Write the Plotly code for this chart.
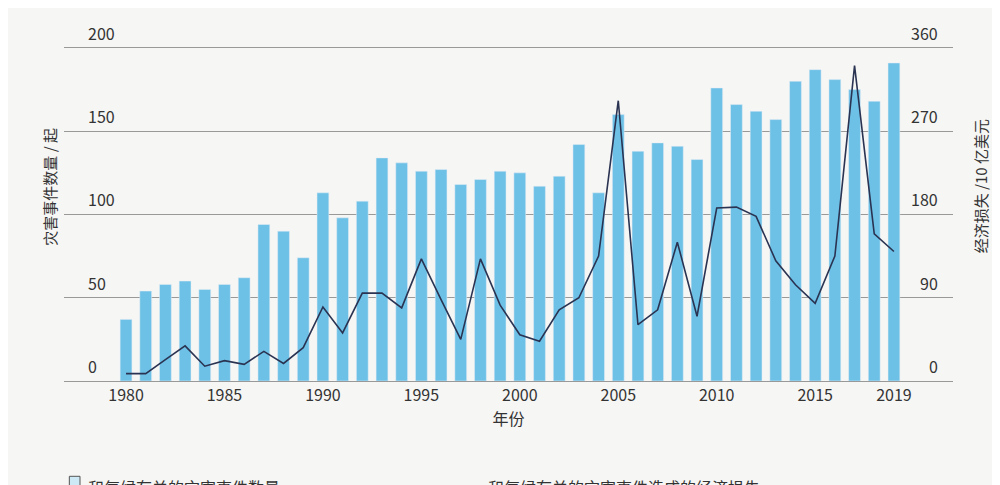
import plotly.graph_objects as go

years = list(range(1980, 2020))
disasters = [37, 54, 58, 60, 55, 58, 62, 94, 90, 74,
             113, 98, 108, 134, 131, 126, 127, 118, 121, 126,
             125, 117, 123, 142, 113, 160, 138, 143, 141, 133,
             176, 166, 162, 157, 180, 187, 181, 175, 168, 191]
losses = [8, 8, 23, 38, 16, 22, 18, 32, 19, 36,
          80, 52, 95, 95, 79, 132, 88, 45, 132, 82,
          50, 43, 77, 90, 135, 303, 61, 77, 150, 70,
          187, 188, 178, 130, 104, 84, 135, 341, 159, 140]
xticks = [1980, 1985, 1990, 1995, 2000, 2005, 2010, 2015, 2019]
lticks = [0, 50, 100, 150, 200]
rticks = [0, 90, 180, 270, 360]

fnt = "Noto Sans CJK SC"
bar_col = "#6ec1e6"
line_col = "#2a3352"

fig = go.Figure()
fig.add_trace(go.Bar(x=years, y=disasters, marker=dict(color=bar_col), width=0.6,
                     showlegend=False))
fig.add_trace(go.Scatter(x=years, y=losses, yaxis="y2", mode="lines",
                         line=dict(color=line_col, width=1.6), showlegend=False))

ann = []
for v in lticks:
    ann.append(dict(text=str(v), x=0.025, y=v, xref="paper", yref="y", xanchor="left",
                    yanchor="bottom", showarrow=False, font=dict(size=16), yshift=1))
for v in rticks:
    ann.append(dict(text=str(v), x=0.985, y=v, xref="paper", yref="y2", xanchor="right",
                    yanchor="bottom", showarrow=False, font=dict(size=16), yshift=1))
ann += [
    dict(text="灾害事件数量 / 起", textangle=-90, x=-0.03, y=0.55,
         xref="paper", yref="paper", showarrow=False, font=dict(size=15)),
    dict(text="经济损失 /10 亿美元", textangle=-90, x=1.045, y=0.55,
         xref="paper", yref="paper", showarrow=False, font=dict(size=15)),
    dict(text="和气候有关的灾害事件数量", x=0.025, y=-0.3, xref="paper", yref="paper",
         xanchor="left", yanchor="middle", showarrow=False, font=dict(size=16)),
    dict(text="和气候有关的灾害事件造成的经济损失", x=0.475, y=-0.3, xref="paper",
         yref="paper", xanchor="left", yanchor="middle", showarrow=False,
         font=dict(size=16)),
]
shapes = [
    dict(type="rect", xref="paper", yref="paper", x0=0.006, x1=0.018, y0=-0.33, y1=-0.27,
         fillcolor="#cde9f5", line=dict(color="#555", width=1)),
    dict(type="line", xref="paper", yref="paper", x0=0.39, x1=0.46, y0=-0.3, y1=-0.3,
         line=dict(color=line_col, width=1.2)),
]

fig.update_layout(
    width=1000, height=485,
    margin=dict(l=56, r=55, t=20, b=112),
    paper_bgcolor="#f6f6f4", plot_bgcolor="#f6f6f4",
    font=dict(family=fnt, size=15, color="#333"),
    showlegend=False,
    xaxis=dict(tickvals=xticks, range=[1976.85, 2022], showgrid=False,
               showline=True, linecolor="#999", ticks="", tickfont=dict(size=16),
               title=dict(text="年份", font=dict(size=16), standoff=4)),
    yaxis=dict(range=[0, 212], tickvals=lticks, showticklabels=False,
               gridcolor="#999", gridwidth=1, zeroline=False),
    yaxis2=dict(range=[0, 381.6], overlaying="y", side="right", showticklabels=False,
                showgrid=False, zeroline=False),
    annotations=ann,
    shapes=shapes,
)
fig.write_html("out.html")
